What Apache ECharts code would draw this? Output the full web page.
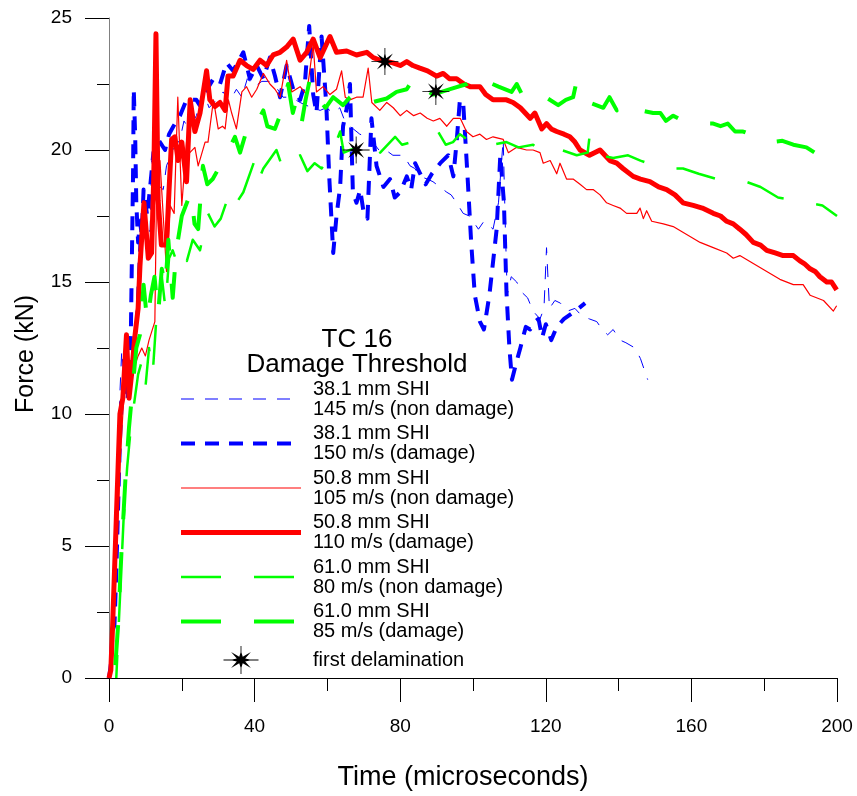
<!DOCTYPE html>
<html>
<head>
<meta charset="utf-8">
<script src="https://cdn.jsdelivr.net/npm/echarts@6/dist/echarts.min.js"></script>
<style>
html,body{margin:0;padding:0;background:#fff;}
#chart{width:857px;height:796px;}
</style>
</head>
<body>
<div id="chart"></div>
<script>
// ---------- data (x: microseconds, y: kN) ----------
const xTicks = [0, 40, 80, 120, 160, 200];
const yTicks = [0, 5, 10, 15, 20, 25];

const names = [
  '38.1 mm SHI\n145 m/s (non damage)',
  '38.1 mm SHI\n150 m/s (damage)',
  '50.8 mm SHI\n105 m/s (non damage)',
  '50.8 mm SHI\n110 m/s (damage)',
  '61.0 mm SHI\n80 m/s (non damage)',
  '61.0 mm SHI\n85 m/s (damage)',
  'first delamination'
];

const blue145 = [[0,0],[1,1],[2,5],[3,10.8],[3.5,12.4],[4,11.5],[5,10.5],[6,11.5],[7,12.5],[8.5,17.4],[10,17.2],[11.3,16.9],[11.7,19.6],[13.1,18.8],[14,18.6],[14.9,18.5],[15.8,19.4],[17.5,20.0],[19.5,20.4],[20.6,21.1],[22,20.8],[24,21.3],[25.9,22.2],[27.5,21.6],[29.5,21.9],[31.4,22.2],[33,21.8],[35,22.3],[36.5,22.0],[38,22.7],[40,22.4],[42,22.6],[44,22.6],[45.8,22.4],[47.8,22.0],[50,22.0],[52.5,21.8],[54,21.7],[56,21.6],[58,21.5],[59.7,21.6],[61.6,21.4],[63.4,21.6],[64.5,21.2],[65.6,21.0],[66.2,20.9],[68.9,20.6],[70.7,20.5],[72.5,20.3],[74.4,19.95],[76,20.0],[78,19.8],[80.9,19.8],[82.7,19.4],[84,19.3],[85.5,19.0],[87.4,18.9],[89,18.8],[90.9,18.6],[92.8,18.4],[94,18.3],[95.5,18.0],[97.3,17.6],[99,17.5],[100,17.3],[101.5,17.0],[103,17.3],[104,17.2],[105.5,17.0],[107,18.0],[108.3,20.4],[108.8,17.5],[109.4,14.5],[110.5,15.2],[112,15.0],[113.5,14.6],[115,14.4],[116.5,13.9],[118.4,13.6],[119.5,14.0],[120.2,16.3],[121,14.0],[122.5,14.3],[124,14.2],[126,13.9],[128,14.0],[130,13.7],[132,13.6],[134,13.5],[135.5,13.2],[137,13.0],[138.5,13.2],[140.4,12.8],[142,12.7],[144.5,12.5],[146,12.1],[147,11.7],[148,11.3]];

const blue150 = [[0,0],[0.5,0.5],[1,1.8],[1.5,2],[2,4],[2.5,6.5],[3,9],[3.5,10.5],[4,11],[4.5,12],[5,10.5],[5.5,11],[6,13],[6.3,16],[6.6,19],[6.8,22.3],[7.2,20.5],[7.5,18],[8,16.5],[8.5,17.3],[9,16.8],[9.5,18.5],[10.5,17.5],[11.3,18.6],[12.2,19.9],[13.5,20.4],[15.4,20.0],[16.5,20.6],[17.7,20.9],[19.5,21.3],[21.3,21.9],[22.2,21.9],[24,21.9],[24.9,21.7],[26.5,22.2],[28.7,22.7],[30.5,22.5],[32.3,23.3],[34.1,23.0],[36.9,23.7],[38.7,22.7],[40.6,23.2],[42.4,22.7],[44.2,23.5],[45.6,22.8],[47,22.0],[48.8,23.2],[50.6,22.3],[52.5,21.9],[53.8,22.5],[55,24.7],[56.1,22.1],[57,21.4],[58.4,24.3],[59.7,21.7],[60.5,19],[61.6,16.1],[62.5,17.5],[63.5,18.6],[64.3,20.9],[65.2,21.5],[66.2,22.5],[67,18.4],[68,18.0],[69,18.5],[70,17.6],[71,17.4],[72.1,21.2],[73.5,19.4],[75.4,18.6],[77.2,18.9],[78.5,18.2],[80,18.4],[81.8,19.0],[83,18.5],[84.1,19.5],[85.5,19.1],[87,18.7],[88.7,19.1],[91,19.5],[93.2,19.8],[94.6,19.0],[95.5,20.3],[96.4,21.9],[97.3,21.8],[98.5,19],[99.5,16.5],[100.5,14.5],[101.9,13.5],[103,13.2],[104.5,14.5],[106.5,17.0],[107.5,19.8],[108.5,18],[109.2,14.6],[110,12.5],[110.7,11.3],[112,12.0],[113,12.5],[114.5,13.3],[115.7,13.2],[117,13.5],[118,13.6],[119,12.9],[120,13.4],[121.5,12.8],[123,13.3],[125,13.6],[127,13.8],[129,14.0],[130.8,14.2]];

const red105 = [[0,0],[1,1.5],[2,4.5],[3,8],[4,10.5],[5,11.5],[6,12],[7,11.8],[8,12.2],[9,12.5],[10,12.2],[11,12.8],[12.6,13.5],[13.1,18.8],[14,19.6],[15.8,15.4],[16.8,17.9],[17.9,17.6],[18.9,22.0],[20,17.9],[21.3,20.3],[22.2,19.9],[23.6,20.1],[24.5,19.4],[26.4,20.3],[27.2,20.3],[28.7,21.9],[30,20.8],[31.2,20.9],[31.9,20.8],[32.8,21.9],[33.7,21.4],[35,20.8],[36.5,22.2],[37.8,22.4],[39.2,22.0],[40.6,22.3],[42.4,22.9],[44.2,22.5],[45.6,22.3],[47,22.0],[48.8,23.4],[50.2,22.2],[52.5,22.4],[54.3,22.1],[56.1,24.0],[57,22.2],[58.8,22.4],[60.7,22.1],[62.5,22.3],[63.9,23.0],[64.9,22.0],[66.2,21.9],[68,22.0],[69.8,22.0],[71.2,23.1],[72.2,21.8],[74.4,21.5],[76.3,21.8],[78.1,21.6],[80,21.3],[81.8,21.5],[83.7,21.3],[85.5,21.4],[87.4,21.2],[89.1,21.1],[90.9,21.2],[92.8,20.9],[94.6,21.2],[96.5,21.2],[98.2,20.7],[100,20.5],[101.9,20.6],[103.7,20.4],[105.5,20.5],[108.3,20.4],[109.7,19.9],[112,20.1],[114.7,20.0],[116.5,20.0],[118.4,19.9],[119.3,19.5],[121.2,19.6],[123,19.1],[123.9,19.5],[125.7,18.9],[127.5,18.9],[129.4,18.7],[131.2,18.5],[133,18.5],[134.9,18.3],[136.7,18.0],[138.5,17.9],[140.4,17.8],[142.2,17.6],[145,17.6],[145.9,17.8],[146.8,17.4],[147.7,17.7],[149.1,17.3],[152.3,17.2],[155,17.1],[158.7,16.8],[162.4,16.5],[166,16.3],[169.7,16.1],[171.5,15.9],[173.3,16.0],[177,15.7],[180.7,15.4],[184.3,15.1],[188,14.9],[190.7,14.9],[192.6,14.5],[196.3,14.3],[199,13.9],[199.9,14.1]];

const red110 = [[0,0],[0.5,0.3],[1,2],[1.5,4],[2,6],[2.5,8],[3,10],[3.8,10.6],[4.8,13.0],[5.5,10.6],[6.2,11.5],[7,12.8],[8,14],[8.5,15.6],[9.6,18.0],[10.8,15.9],[11.7,16.1],[12.3,19],[12.9,24.4],[13.5,18.1],[14.4,16.4],[15.8,16.4],[16.5,18.5],[17.2,20.4],[18.1,20.5],[19,19.6],[20,20.3],[21.3,18.8],[22.3,21.9],[23.6,20.7],[25,21.4],[26.8,23.0],[27.7,21.9],[29.1,21.65],[30.5,21.8],[31.9,21.5],[32.7,22.8],[34.1,22.8],[36,23.4],[37.8,23.2],[39.6,23.05],[41.5,23.4],[43.3,23.2],[45.1,23.6],[47,23.7],[48.8,23.9],[50.6,24.2],[52.5,23.4],[54.3,23.7],[56.1,24.2],[58,23.5],[60.7,24.3],[62.5,23.7],[65.3,23.75],[68,23.6],[70.8,23.7],[72.6,23.5],[74.5,23.4],[76.3,23.35],[78,23.3],[80,23.2],[81.8,23.35],[83.5,23.2],[85.4,23.1],[87.5,23.0],[90,22.8],[91.8,22.9],[93.5,22.7],[95.5,22.7],[97.5,22.5],[99.2,22.4],[101.9,22.4],[103.5,22.1],[105.5,21.9],[107.4,21.9],[109.2,21.9],[111,21.8],[113,21.6],[115.7,21.2],[117,21.4],[118.9,20.8],[120.2,21.0],[121.5,20.8],[123,20.7],[125,20.6],[126.6,20.5],[128,20.3],[129.4,20.0],[132,19.8],[134.9,20.0],[137.6,19.6],[139.5,19.5],[141.2,19.3],[144,19.0],[146,18.9],[148.6,18.8],[151,18.6],[153.2,18.5],[155.5,18.3],[157.7,18.0],[160.5,17.9],[163,17.8],[166,17.6],[168,17.5],[169.7,17.3],[171.5,17.2],[173.3,17.0],[175,16.8],[177,16.5],[179,16.4],[180.7,16.2],[183,16.1],[185.2,16.0],[188,16.0],[189.8,15.8],[191,15.7],[192.6,15.5],[194,15.4],[195.3,15.2],[197.2,15.0],[198.5,15.0],[199.9,14.7]];

const green80 = [[2,0],[3,3],[4,6],[5,8],[6,9.5],[7,10.5],[8,11.5],[9,12],[10,11],[11,12.5],[12,11.5],[13,13.6],[14.5,15.2],[15.5,14],[16.5,15.9],[17.5,16.2],[18.5,15.8],[19.5,16.3],[21.4,15.8],[23,16.6],[25,16.2],[27.2,17.6],[29,17.1],[30.7,17.4],[33.7,18.6],[35.5,18.1],[36.9,18.4],[40.5,19.8],[41.5,19.0],[42.4,19.3],[46,20.0],[48,19.2],[49.7,19.6],[52.5,19.8],[54.5,19.2],[56.5,19.5],[58.4,19.3],[61,19.8],[63.5,20.7],[64.5,19.9],[66.2,20.0],[68.5,20.1],[70.5,19.9],[72.5,20.2],[74.5,19.9],[78.6,20.5],[80.5,20.2],[83.1,20.3],[86.5,20.4],[90.4,20.7],[92.5,20.2],[94.5,20.3],[96.4,20.6],[99.5,20.3],[102.3,20.4],[105.5,20.2],[109.2,20.3],[112.5,20.1],[116.5,20.2],[120,19.8],[124.3,20.0],[128.5,19.8],[131.5,19.9],[132,20.5],[132.5,19.9],[135,19.8],[138.5,19.7],[142.6,19.8],[146,19.6],[150,19.4],[154,19.3],[157.7,19.3],[162,19.1],[167,18.9],[171,18.9],[175,18.8],[179,18.6],[183.8,18.2],[188,18.1],[192,18.0],[196,17.9],[200,17.5]];

const green85 = [[1.5,0],[2.5,2],[3.5,5],[4.5,7.5],[5.5,9.5],[6.5,11],[7.5,12.5],[8.5,13],[9.5,14.9],[10.5,13.5],[11.5,14.5],[12.5,15.2],[13.5,13.8],[14.5,15.5],[15.5,14.8],[16.3,16.6],[17.5,14.4],[18.5,16.2],[20,17.5],[22.5,18.4],[23.5,17.2],[24.5,17.0],[25.8,19.4],[27,18.7],[28.5,18.9],[30.5,19.4],[32.5,19.9],[34.6,20.5],[36,19.9],[37.5,20.6],[39.2,20.5],[40.5,21.0],[42.4,21.5],[43.5,20.9],[45.6,20.8],[47.5,21.5],[49.2,22.5],[50.5,21.4],[51.5,21.9],[52.9,21.0],[54,21.9],[55.2,22.7],[57,22.0],[59.5,21.6],[61.6,22.0],[64.3,21.7],[66.2,22.0],[69,22.3],[72,21.8],[76.3,21.95],[79,22.2],[81.8,22.3],[82.7,22.5],[85.4,22.0],[87,22.3],[89,22.1],[93.5,22.3],[98.3,22.5],[100,22.7],[102,22.4],[103.7,22.6],[107,22.4],[110.6,22.2],[112,22.5],[113.5,22.1],[115,22.3],[116.5,22.1],[120,22.0],[123.4,21.7],[125.5,21.9],[127.5,22.0],[128.3,22.5],[128.9,21.9],[132,21.8],[135.8,21.6],[137.5,22.0],[139.5,21.5],[141,21.8],[142.3,21.7],[146,21.5],[149.5,21.4],[151.5,21.4],[153,21.1],[155,21.3],[157.7,21.1],[162,21.0],[166,21.0],[168,20.9],[170,21.0],[172,20.7],[174.2,20.7],[178,20.5],[182,20.3],[185,20.35],[188,20.2],[191.6,20.1],[195,19.8],[198,19.6],[200,19.5]];

const delam = [[75.8,23.35],[89.8,22.22],[67.9,20.0]];

// ---------- chart ----------
const starPath = 'path://M85 50L62 45L79.7 20.3L55 38L50 15L45 38L20.3 20.3L38 45L15 50L38 55L20.3 79.7L45 62L50 85L55 62L79.7 79.7L62 55Z M0 48.5V51.5H100V48.5Z M48.5 0V100H51.5V0Z';
const starLegendPath = 'path://M102.5 50L77.5 45L97.85 21.7L68.7 38L62.5 18L56.3 38L27.15 21.7L47.5 45L22.5 50L47.5 55L27.15 78.3L56.3 62L62.5 82L68.7 62L97.85 78.3L77.5 55Z M0 48.5V51.5H125V48.5Z M61 0V100H64V0Z';

// legend line sample drawn as a filled path in a 120 x 28 box
function lineIcon(dash, gap, t) {
  let p = 'M0 0h0.01v0.01h-0.01Z M119.99 27.99h0.01v0.01h-0.01Z';
  const y0 = 14 - t / 2, y1 = 14 + t / 2;
  if (!dash) {
    p += ' M0 ' + y0 + 'V' + y1 + 'H120V' + y0 + 'Z';
  } else {
    for (let x = 0; x < 120; x += dash + gap) {
      const x1 = Math.min(x + dash, 120);
      p += ' M' + x + ' ' + y0 + 'V' + y1 + 'H' + x1 + 'V' + y0 + 'Z';
    }
  }
  return 'path://' + p;
}

const chart = echarts.init(document.getElementById('chart'), null, {renderer: 'canvas'});
const FONT = 'Liberation Sans, Arial, sans-serif';

function lineSeries(name, data, color, width, type, offset) {
  return {
    name: name, type: 'line', data: data, symbol: 'none', showSymbol: false,
    lineStyle: {color: color, width: width, type: type, dashOffset: offset || 0, cap: 'butt', join: 'round'},
    itemStyle: {color: color},
    emphasis: {disabled: true}, clip: true
  };
}

chart.setOption({
  animation: false,
  backgroundColor: '#ffffff',
  textStyle: {fontFamily: FONT, color: '#000'},
  grid: {left: 109, right: 20, top: 18, bottom: 116, containLabel: false},
  title: {
    text: 'TC 16\nDamage Threshold',
    left: 352, top: 322, textAlign: 'center',
    textStyle: {fontFamily: FONT, fontSize: 26, fontWeight: 'normal', color: '#000', lineHeight: 25}
  },
  legend: {
    orient: 'vertical', left: 181, top: 379, padding: 0,
    itemWidth: 120, itemHeight: 28, itemGap: 4.5,
    selectedMode: false,
    itemStyle: {borderWidth: 0, opacity: 1},
    data: [
      {name: names[0], icon: lineIcon(13, 11, 1)},
      {name: names[1], icon: lineIcon(14, 10, 4)},
      {name: names[2], icon: lineIcon(0, 0, 1.2)},
      {name: names[3], icon: lineIcon(0, 0, 5)},
      {name: names[4], icon: lineIcon(40, 33, 2.5)},
      {name: names[5], icon: lineIcon(40, 33, 4)},
      {name: names[6], icon: starLegendPath}
    ],
    textStyle: {fontFamily: FONT, fontSize: 20, lineHeight: 20, color: '#000', padding: [0, 0, 0, 7]}
  },
  xAxis: {
    type: 'value', min: 0, max: 200, interval: 40,
    name: 'Time (microseconds)', nameLocation: 'middle', nameGap: 86,
    nameTextStyle: {fontFamily: FONT, fontSize: 27, color: '#000', padding: [0, 20, 0, 0]},
    axisLine: {show: true, onZero: false, lineStyle: {color: '#000', width: 1}},
    axisTick: {show: true, length: 24, lineStyle: {color: '#000'}},
    minorTick: {show: true, splitNumber: 2, length: 13, lineStyle: {color: '#000'}},
    axisLabel: {fontFamily: FONT, fontSize: 19, color: '#000', margin: 39,
      formatter: function (v) { return xTicks.indexOf(v) >= 0 ? String(v) : ''; }},
    splitLine: {show: false}
  },
  yAxis: {
    type: 'value', min: 0, max: 25, interval: 5,
    name: 'Force (kN)', nameLocation: 'middle', nameGap: 70,
    nameTextStyle: {fontFamily: FONT, fontSize: 25, color: '#000', padding: [0, 12, 0, 0]},
    axisLine: {show: true, onZero: false, lineStyle: {color: '#808080', width: 1}},
    axisTick: {show: true, length: 24, lineStyle: {color: '#000'}},
    minorTick: {show: true, splitNumber: 2, length: 12, lineStyle: {color: '#000'}},
    axisLabel: {fontFamily: FONT, fontSize: 19, color: '#000', margin: 37,
      formatter: function (v) { return yTicks.indexOf(v) >= 0 ? String(v) : ''; }},
    splitLine: {show: false}
  },
  series: [
    lineSeries(names[0], blue145, '#0000ff', 1, [13, 11]),
    lineSeries(names[1], blue150, '#0000ff', 4, [14, 10]),
    lineSeries(names[2], red105, '#ff0000', 1.2, 'solid'),
    lineSeries(names[3], red110, '#ff0000', 5, 'solid'),
    lineSeries(names[4], green80, '#00ff00', 2.5, [40, 33], 17),
    lineSeries(names[5], green85, '#00ff00', 4, [40, 33], 60),
    {
      name: names[6], type: 'scatter', data: delam,
      symbol: starPath, symbolSize: 27,
      itemStyle: {color: '#000', opacity: 1}, emphasis: {disabled: true}, z: 5
    }
  ]
});
</script>
</body>
</html>
